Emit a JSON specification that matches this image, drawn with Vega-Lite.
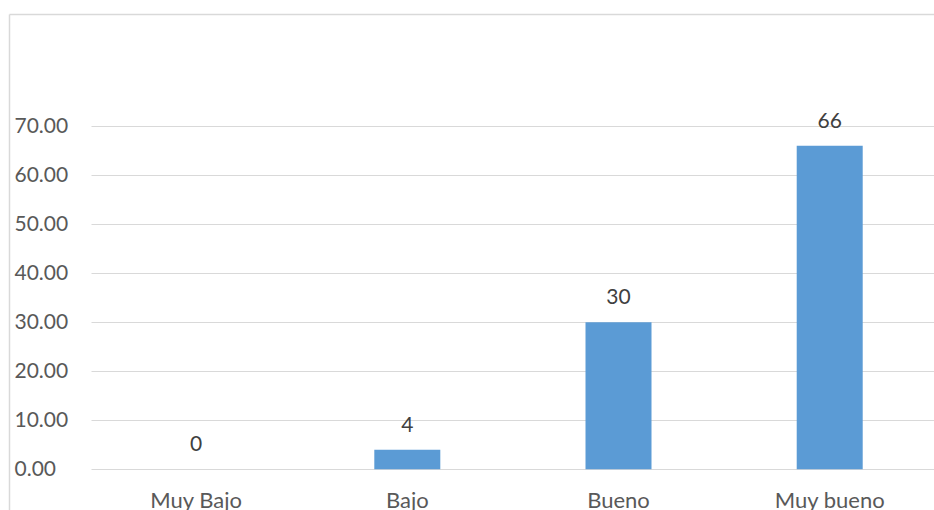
{
  "$schema": "https://vega.github.io/schema/vega-lite/v6.json",
  "autosize": {"type": "none"},
  "padding": {"left": 9, "top": 14, "right": 0, "bottom": 0},
  "width": 925,
  "height": 496,
  "background": "white",
  "config": {
    "font": "Lato",
    "view": {"stroke": null},
    "axis": {"labelFont": "Lato", "title": null}
  },
  "data": {
    "values": [
      {"nivel": "Muy Bajo", "valor": 0},
      {"nivel": "Bajo", "valor": 4},
      {"nivel": "Bueno", "valor": 30},
      {"nivel": "Muy bueno", "valor": 66}
    ]
  },
  "layer": [
    {
      "mark": {"type": "bar", "color": "#5B9BD5"},
      "encoding": {
        "x": {
          "field": "nivel",
          "type": "nominal",
          "sort": ["Muy Bajo", "Bajo", "Bueno", "Muy bueno"],
          "scale": {"type": "band", "paddingInner": 0.6875, "paddingOuter": 0.5336, "align": 0.6837},
          "axis": {
            "orient": "bottom",
            "offset": -41,
            "domain": false,
            "ticks": false,
            "tickSize": 0,
            "grid": false,
            "labelAngle": 0,
            "labelBaseline": "alphabetic",
            "labelPadding": 38,
            "labelFontSize": 22,
            "labelColor": "#595959",
            "title": null
          }
        },
        "y": {
          "field": "valor",
          "type": "quantitative",
          "scale": {"domain": [-8.3, 92.84], "nice": false, "zero": false},
          "axis": {
            "orient": "left",
            "values": [0, 10, 20, 30, 40, 50, 60, 70],
            "format": ".2f",
            "domain": true,
            "domainColor": "#D9D9D9",
            "domainWidth": 1.5,
            "ticks": false,
            "tickSize": 0,
            "grid": false,
            "labelAlign": "left",
            "labelBaseline": "middle",
            "labelPadding": -5,
            "labelFontSize": 21,
            "labelColor": "#595959",
            "title": null
          }
        },
        "y2": {"datum": 0}
      }
    },
    {
      "mark": {"type": "text", "baseline": "alphabetic", "dy": -18, "fontSize": 21, "color": "#404040"},
      "encoding": {
        "x": {
          "field": "nivel",
          "type": "nominal",
          "sort": ["Muy Bajo", "Bajo", "Bueno", "Muy bueno"],
          "axis": {
            "orient": "top",
            "domain": true,
            "domainColor": "#D9D9D9",
            "domainWidth": 1.5,
            "ticks": false,
            "labels": false,
            "grid": false,
            "title": null
          }
        },
        "y": {
          "field": "valor",
          "type": "quantitative",
          "axis": {
            "orient": "right",
            "values": [0, 10, 20, 30, 40, 50, 60, 70],
            "domain": false,
            "ticks": true,
            "tickSize": -843,
            "tickColor": "#D9D9D9",
            "tickWidth": 1,
            "labels": false,
            "grid": false,
            "title": null
          }
        },
        "text": {"field": "valor", "type": "quantitative", "format": "d"}
      }
    }
  ],
  "resolve": {"axis": {"x": "independent", "y": "independent"}}
}
